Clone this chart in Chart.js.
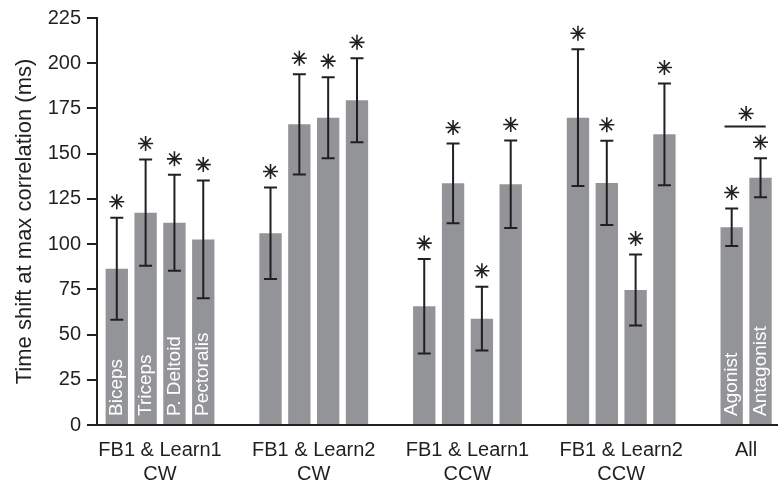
<!DOCTYPE html>
<html>
<head>
<meta charset="utf-8">
<script src="https://cdn.jsdelivr.net/npm/chart.js@4.4.0/dist/chart.umd.min.js"></script>
<style>
  html, body { margin: 0; padding: 0; background: #ffffff; }
  canvas { display: block; }
</style>
</head>
<body>
<canvas id="chart" width="778" height="483"></canvas>
<script>
// Condition groups along the x axis
const groupLabels = [['FB1 & Learn1', 'CW'], ['FB1 & Learn2', 'CW'], ['FB1 & Learn1', 'CCW'], ['FB1 & Learn2', 'CCW'], 'All'];
const muscleNames = ['Biceps', 'Triceps', 'P. Deltoid', 'Pectoralis'];
const pooledNames = ['Agonist', 'Antagonist'];

// Time shift at max correlation (ms): mean and error half-width per bar
const cwLearn1Mean = [86.4, 117.4, 111.8, 102.6];
const cwLearn1Err  = [28.2, 29.4, 26.5, 32.5];
const cwLearn2Mean = [106.0, 166.2, 169.9, 179.5];
const cwLearn2Err  = [25.3, 27.7, 22.4, 23.2];
const ccwLearn1Mean = [65.6, 133.6, 58.8, 133.1];
const ccwLearn1Err  = [26.1, 22.0, 17.6, 24.2];
const ccwLearn2Mean = [169.9, 133.8, 74.6, 160.7];
const ccwLearn2Err  = [37.8, 23.3, 19.6, 28.1];
const allMean = [109.3, 136.7];
const allErr  = [10.4, 10.8];
const allDiffLevel = 165;   // agonist vs antagonist significance bracket

const yTickValues = [0, 25, 50, 75, 100, 125, 150, 175, 200, 225];

const groupMeans = [cwLearn1Mean, cwLearn2Mean, ccwLearn1Mean, ccwLearn2Mean, allMean];
const groupErrs = [cwLearn1Err, cwLearn2Err, ccwLearn1Err, ccwLearn2Err, allErr];
const groupBarNames = [muscleNames, null, null, null, pooledNames];

const slotCount = 4;
const categoryPct = 0.75;
const barPct = 0.775;
const ink = '#231f20';
const barGray = '#939497';

// one dataset per bar slot within a group
const datasets = [];
for (let s = 0; s < slotCount; s++) {
  datasets.push({
    data: groupMeans.map((m, g) => ({ x: g, y: m[s] === undefined ? null : m[s] })),
    backgroundColor: barGray,
    borderWidth: 0,
    categoryPercentage: categoryPct,
    barPercentage: barPct,
    xAxisID: 'x',
    yAxisID: 'y'
  });
}

// label position for each group: centre of the bars it actually holds
const groupCenters = groupMeans.map((m, g) => g - categoryPct / 2 + m.length * categoryPct / (2 * slotCount));

Chart.defaults.font.family = '"Liberation Sans", Arial, Helvetica, sans-serif';
Chart.defaults.color = ink;

const barAnnotations = {
  id: 'barAnnotations',
  afterDatasetsDraw(chart) {
    const ctx = chart.ctx;
    const y = chart.scales.y;
    const base = y.getPixelForValue(0);
    ctx.save();
    chart.data.datasets.forEach((ds, s) => {
      const meta = chart.getDatasetMeta(s);
      meta.data.forEach((bar, g) => {
        const mean = groupMeans[g][s];
        if (mean === undefined || mean === null) return;
        const err = groupErrs[g][s];
        const top = y.getPixelForValue(mean + err);
        const bottom = y.getPixelForValue(mean - err);

        // bar name written upward inside the bar
        const names = groupBarNames[g];
        if (names) {
          ctx.save();
          ctx.translate(bar.x, base - 9);
          ctx.rotate(-Math.PI / 2);
          ctx.fillStyle = '#ffffff';
          ctx.font = '19px "Liberation Sans", Arial, sans-serif';
          ctx.textAlign = 'left';
          ctx.textBaseline = 'middle';
          ctx.fillText(names[s], 0, 0);
          ctx.restore();
        }

        // error bar with caps
        ctx.strokeStyle = ink;
        ctx.lineWidth = 2;
        ctx.beginPath();
        ctx.moveTo(bar.x, top);
        ctx.lineTo(bar.x, bottom);
        ctx.moveTo(bar.x - 6.5, top);
        ctx.lineTo(bar.x + 6.5, top);
        ctx.moveTo(bar.x - 6.5, bottom);
        ctx.lineTo(bar.x + 6.5, bottom);
        ctx.stroke();

        // significance asterisk
        ctx.lineWidth = 1.6;
        ctx.fillStyle = ink;
        Chart.helpers.drawPoint(ctx, { pointStyle: 'star', radius: 7.5, borderWidth: 1.6, rotation: 0 }, bar.x, top - 16);
      });
    });

    // bracket between the pooled agonist and antagonist bars
    const last = groupMeans.length - 1;
    const left = chart.getDatasetMeta(0).data[last];
    const right = chart.getDatasetMeta(1).data[last];
    const by = y.getPixelForValue(allDiffLevel);
    ctx.strokeStyle = ink;
    ctx.lineWidth = 2;
    ctx.beginPath();
    ctx.moveTo(left.x - left.width / 2 + 4, by);
    ctx.lineTo(right.x + right.width / 2 - 6, by);
    ctx.stroke();
    ctx.lineWidth = 1.6;
    Chart.helpers.drawPoint(ctx, { pointStyle: 'star', radius: 7.5, borderWidth: 1.6, rotation: 0 }, (left.x + right.x) / 2, by - 13);
    ctx.restore();
  }
};

new Chart(document.getElementById('chart'), {
  type: 'bar',
  data: { datasets },
  plugins: [barAnnotations],
  options: {
    responsive: false,
    animation: false,
    devicePixelRatio: 1,
    layout: { padding: { top: 18, right: 0, bottom: 0, left: 0 } },
    plugins: { legend: { display: false }, tooltip: { enabled: false } },
    scales: {
      x: {
        type: 'linear',
        display: false,
        offset: false,
        min: -0.41,
        max: 4.02,
        afterBuildTicks: s => { s.ticks = groupMeans.map((m, g) => ({ value: g })); }
      },
      xl: {
        type: 'linear',
        position: 'bottom',
        offset: false,
        min: -0.41,
        max: 4.02,
        grid: { display: false },
        border: { display: true, color: ink, width: 2 },
        ticks: {
          autoSkip: false,
          maxRotation: 0,
          minRotation: 0,
          padding: 5,
          color: ink,
          font: { size: 20 },
          callback: (v, i) => groupLabels[i]
        },
        afterBuildTicks: s => { s.ticks = groupCenters.map(v => ({ value: v })); },
        afterFit: s => { s.height = 58; s.paddingLeft = 0; s.paddingRight = 0; }
      },
      y: {
        type: 'linear',
        position: 'left',
        min: 0,
        max: 225,
        border: { display: true, color: ink, width: 2 },
        grid: { display: true, drawOnChartArea: false, drawTicks: true, tickLength: 10, lineWidth: 2, color: ink },
        ticks: { padding: 6, color: ink, font: { size: 20 } },
        afterBuildTicks: s => { s.ticks = yTickValues.map(v => ({ value: v })); },
        title: {
          display: true,
          text: 'Time shift at max correlation (ms)',
          color: ink,
          font: { size: 22 },
          padding: { top: 12, bottom: 0 }
        },
        afterFit: s => { s.width = 97; }
      }
    }
  }
});
</script>
</body>
</html>
